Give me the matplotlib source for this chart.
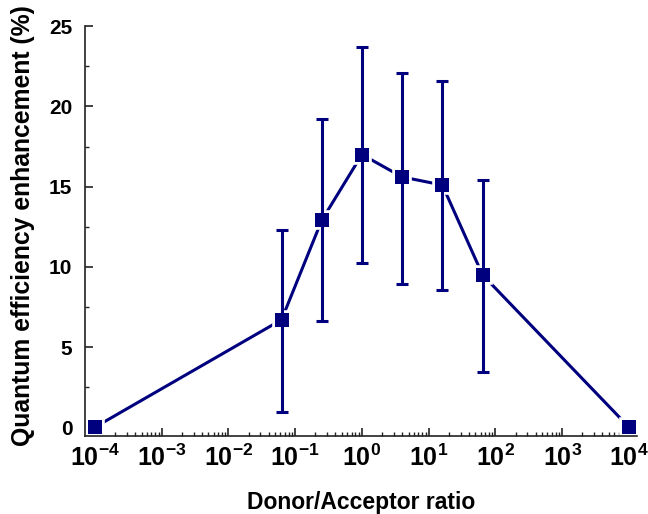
import numpy as np
import matplotlib
matplotlib.use('Agg')
import matplotlib.pyplot as plt
from matplotlib.ticker import FixedLocator, FixedFormatter, LogLocator, MultipleLocator, NullFormatter

# data
ratio = [1e-4, 1 / 16, 1 / 4, 1, 4, 16, 64, 1e4]
qe = [0, 6.7, 12.9, 17.0, 15.6, 15.1, 9.5, 0]
bar_lo = [np.nan, 0.95, 6.6, 10.25, 8.95, 8.55, 3.45, np.nan]
bar_hi = [np.nan, 12.3, 19.2, 23.7, 22.1, 21.6, 15.4, np.nan]
x_exponents = [-4, -3, -2, -1, 0, 1, 2, 3, 4]
y_ticks = [0, 5, 10, 15, 20, 25]

navy = '#00007f'

plt.rcParams['font.family'] = ['Liberation Sans', 'DejaVu Sans']
plt.rcParams['font.weight'] = 'bold'
plt.rcParams['mathtext.fontset'] = 'custom'
plt.rcParams['mathtext.rm'] = 'Liberation Sans:bold'
plt.rcParams['mathtext.bf'] = 'Liberation Sans:bold'
plt.rcParams['mathtext.it'] = 'Liberation Sans:bold'

fig = plt.figure(figsize=(6.48, 5.14), dpi=100)
ax = fig.add_axes([0.131, 0.152, 0.852, 0.797])

x = np.array(ratio)
y = np.array(qe)
lo = np.array(bar_lo)
hi = np.array(bar_hi)

# line + squares; white marker edge makes the small gap where line meets square
ax.plot(x, y, color=navy, lw=2.2, marker='s', ms=12, mfc=navy,
        mec='white', mew=2.6, zorder=2)

has_err = ~np.isnan(lo)
ax.errorbar(x[has_err], y[has_err],
            yerr=[y[has_err] - lo[has_err], hi[has_err] - y[has_err]],
            fmt='none', ecolor=navy, elinewidth=2.2, capsize=4, capthick=2.2,
            zorder=3)
# squares again on top so they stay solid
ax.plot(x, y, ls='none', marker='s', ms=9.5, mfc=navy, mec=navy, mew=0, zorder=4)

ax.set_xscale('log')
ax.set_xlim(10 ** -4.15, 10 ** 4.12)
ax.set_ylim(-0.54, 25)

ax.xaxis.set_major_locator(FixedLocator([10.0 ** e for e in x_exponents]))
ax.xaxis.set_major_formatter(FixedFormatter([r'$\mathbf{10^{%d}}$' % e for e in x_exponents]))
ax.xaxis.set_minor_locator(LogLocator(base=10, subs=np.arange(2, 10), numticks=30))
ax.xaxis.set_minor_formatter(NullFormatter())

ax.yaxis.set_major_locator(FixedLocator(y_ticks))
ax.yaxis.set_minor_locator(MultipleLocator(2.5))

for s in ['top', 'right']:
    ax.spines[s].set_visible(False)
for s in ['left', 'bottom']:
    ax.spines[s].set_linewidth(1.2)
    ax.spines[s].set_color('#222222')

ax.tick_params(axis='both', which='major', direction='in', length=6, width=1.2, color='#222222')
ax.tick_params(axis='both', which='minor', direction='in', length=3, width=1.0, color='#222222')
ax.tick_params(axis='x', which='major', labelsize=18, pad=6)
ax.tick_params(axis='y', which='major', labelsize=15, pad=9)

ax.set_xlabel('Donor/Acceptor ratio', fontsize=16.5, fontweight='bold')
ax.set_ylabel('Quantum efficiency enhancement (%)', fontsize=17.8, fontweight='bold')
ax.xaxis.set_label_coords(0.5, -0.135)
ax.yaxis.set_label_coords(-0.09, 0.514)

fig.savefig('out.png', dpi=100)
